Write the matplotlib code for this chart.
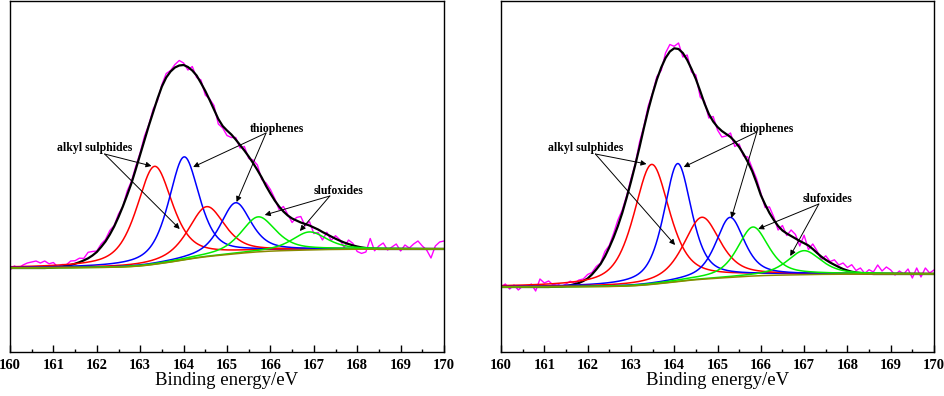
import matplotlib
matplotlib.use('Agg')
import matplotlib.pyplot as plt
import numpy as np

plt.rcParams['font.family'] = ['Liberation Serif', 'DejaVu Serif']

# binding energy grid of the measured spectra (eV)
energy = np.round(np.arange(160.0, 170.01, 0.1), 1)

# ── panel (a) ────────────────────────────────────────────────────────────────
fit_a = [84, 84, 84, 84, 84, 84, 84, 84, 84, 84.2,
         84.5, 85, 85.5, 86.3, 87, 88.3, 89.8, 91.6, 93.7, 96.5,
         100, 105, 110.5, 117.5, 125.5, 135, 145.5, 157, 169, 183,
         197.5, 212, 226.5, 240, 253.5, 265.5, 274.5, 280.5, 284.5, 286.5,
         287, 285, 281.5, 276.5, 269, 261, 252, 242.5, 233, 226,
         221.5, 217.5, 212.5, 207, 201.5, 195.5, 189, 182, 174.5, 166,
         158.5, 151.5, 145.5, 140.5, 136.5, 133.5, 131.5, 129.5, 128, 126.5,
         124.5, 122.5, 120, 117.8, 115.5, 113.3, 111.3, 109.5, 108, 106.6,
         105.5, 104.6, 104, 103.5, 103.2, 103, 103, 103, 103, 103,
         103, 103, 103, 103, 103, 103, 103, 103, 103, 103, 103]
resid_a = [-2, 2, 0, 3, 5, 6, 7, 5, 7, 4,
           5, 0, 2, 1, 4, 3, 4, 2, 6, 4,
           1, 3, 2, 4, 1, 3, 0, 4, 2, 3,
           2, 4, 1, 3, -2, 2, 4, 1, 3, 5,
           2, -3, 4, -2, 3, -4, 1, 4, -5, -2,
           -5, -3, 2, -3, 4, -2, 3, 5, -2, 3,
           4, 2, -3, 5, 1, -4, 3, 6, -2, 4,
           -6, -3, -8, 2, -4, 3, 1, -5, 4, 2,
           -5, -6, -4, 10, -2, 3, 6, -1, 2, 5,
           -2, 4, 1, 5, 8, 3, -1, -9, 3, 7, 8]
peak_a_center = [163.33, 164.01, 164.53, 165.20, 165.72, 166.90]
peak_a_height = [98, 103, 50, 51, 35, 18]
peak_a_fwhm = [0.98, 0.84, 1.0, 0.84, 0.95, 0.95]
bg_a = [84, 103]

# ── panel (b) ────────────────────────────────────────────────────────────────
fit_b = [65, 65, 65, 65, 65, 65, 65, 65, 65, 65,
         65, 65, 65.2, 65.3, 65.5, 66, 66.8, 67.8, 69, 71,
         73.5, 77.5, 82.5, 88, 95.5, 104.5, 114.5, 126, 139, 154,
         170, 187, 205, 224, 242, 258, 272.5, 284.5, 294, 300.5,
         303.7, 303, 299, 292, 283, 273, 261, 248.5, 238, 230.5,
         225, 221, 218, 215, 210.5, 205, 198, 190, 181, 169.5,
         157, 147.5, 139, 132, 126, 121.5, 118.5, 116, 113.5, 111,
         108.8, 106.5, 103, 99, 95.3, 92.2, 89.5, 87.2, 85, 83,
         81.5, 80.3, 79.5, 79, 78.6, 78.3, 78, 78, 78, 78,
         78, 78, 78, 78, 78, 78, 78, 78, 78, 78, 78]
resid_b = [0, 3, -2, 2, -3, 1, 0, 3, -4, 8,
           4, 6, 2, 3, 0, 2, 4, 1, 3, 2,
           4, 2, 3, 1, 5, 2, 4, 6, 3, 2,
           3, 1, 5, 2, 4, 1, 3, -3, 5, 7,
           2, 6, -4, 5, -3, 4, -6, 2, -4, 5,
           -3, -6, -2, 4, -5, 3, -2, 5, 3, 4,
           2, -3, 6, 3, -4, 5, -2, 6, 4, -5,
           8, -4, 5, 2, -3, 4, 1, 5, 2, 6,
           3, 7, 2, 5, 0, 4, 2, 9, 3, 7,
           4, -1, 3, 0, 5, -4, 6, -3, 6, 1, 4]
peak_b_center = [163.48, 164.08, 164.64, 165.29, 165.82, 167.00]
peak_b_height = [120, 118, 62, 60, 49, 24]
peak_b_fwhm = [0.98, 0.76, 1.0, 0.78, 0.85, 0.92]
bg_b = [65, 78]

# Gaussian-Lorentzian mixing of the fitted components
gl_mix = 0.6
peak_colors = ['#ff0000', '#0000ff', '#ff0000', '#0000ff', '#00ee00', '#00ee00']

# annotation positions: (text x, text y), arrow start, arrow tips
notes_a = [
    ('alkyl sulphides', (161.96, 204), (162.18, 198), [(163.26, 186), (163.91, 123)]),
    ('thiophenes', (166.16, 223), (165.90, 219), [(164.22, 185), (165.22, 150)]),
    ('slufoxides', (167.56, 161), (167.37, 156), [(165.87, 137), (166.68, 121)]),
]
notes_b = [
    ('alkyl sulphides', (161.96, 204), (162.18, 198), [(163.36, 188), (164.02, 107)]),
    ('thiophenes', (166.15, 223), (165.91, 220), [(164.22, 185), (165.32, 134)]),
    ('slufoxides', (167.55, 153), (167.34, 148), [(165.94, 123), (166.68, 96)]),
]


def pseudo_voigt(x, c, h, w):
    g = np.exp(-4 * np.log(2) * (x - c) ** 2 / w ** 2)
    lor = 1 / (1 + 4 * (x - c) ** 2 / w ** 2)
    return h * ((1 - gl_mix) * g + gl_mix * lor)


def draw_panel(ax, fit, resid, centers, heights, fwhms, bg, notes):
    x = np.linspace(160, 170, 1001)
    peaks = [pseudo_voigt(x, c, h, w) for c, h, w in zip(centers, heights, fwhms)]
    # Shirley-type background from cumulative peak area
    cum = np.cumsum(np.sum(peaks, axis=0))
    shirley = bg[0] + (bg[1] - bg[0]) * (cum - cum[0]) / (cum[-1] - cum[0])

    raw = np.array(fit) + np.array(resid)
    ax.plot(energy, raw, color='#ff00ff', lw=1.0)
    ax.plot(energy, fit, color='black', lw=1.6)
    for p, col in zip(peaks, peak_colors):
        ax.plot(x, shirley + p, color=col, lw=1.1)
    ax.plot(x, shirley, color='#8a8a00', lw=1.1)

    for label, tpos, start, tips in notes:
        ax.text(tpos[0], tpos[1], label, ha='center', va='center',
                fontsize=8.5, fontweight='bold')
        for tip in tips:
            ax.annotate('', xy=tip, xytext=start,
                        arrowprops=dict(arrowstyle='-|>', color='black', lw=0.7,
                                        mutation_scale=8, shrinkA=0, shrinkB=0))

    ax.set_xlim(160, 170)
    ax.set_ylim(0, 351)
    ax.set_xticks(np.arange(160, 171, 1))
    ax.set_xticks(np.arange(160.5, 170, 1), minor=True)
    ax.set_yticks([])
    ax.tick_params(axis='x', which='major', direction='in', length=5, width=1,
                   labelsize=10.5, pad=5)
    ax.tick_params(axis='x', which='minor', direction='in', length=2.5, width=1)
    for lab in ax.get_xticklabels():
        lab.set_fontweight('bold')
    for sp in ax.spines.values():
        sp.set_linewidth(1.0)
    ax.set_xlabel('Binding energy/eV', fontsize=13.5, labelpad=0)


fig = plt.figure(figsize=(9.45, 3.96), dpi=100)
ax1 = fig.add_axes([10 / 945, 44 / 396, 434 / 945, 351 / 396])
ax2 = fig.add_axes([501 / 945, 44 / 396, 433 / 945, 351 / 396])

draw_panel(ax1, fit_a, resid_a, peak_a_center, peak_a_height, peak_a_fwhm, bg_a, notes_a)
draw_panel(ax2, fit_b, resid_b, peak_b_center, peak_b_height, peak_b_fwhm, bg_b, notes_b)

fig.savefig('out.png', dpi=100)
